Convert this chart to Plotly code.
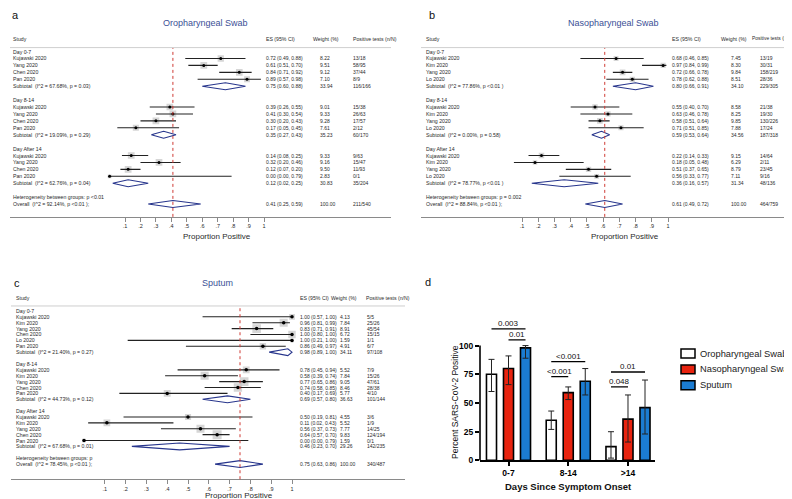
import math
import plotly.graph_objects as go

W, H = 792, 499
FONT = "Liberation Sans, Arial, sans-serif"
TXT = "#2a2a2a"
NAVY = "#27358c"
TITLE_C = "#3b4f96"
RED = "#cf3b35"


def px(x):
    return x / W


def py(y):
    return 1 - y / H


# ---------------- Panel a : Oropharyngeal Swab ----------------
a_labels = ["Day 0-7", "Kujawski 2020", "Yang 2020", "Chen 2020", "Pan 2020",
            "Subtotal  (I^2 = 67.68%, p = 0.03)", "",
            "Day 8-14", "Kujawski 2020", "Yang 2020", "Chen 2020", "Pan 2020",
            "Subtotal  (I^2 = 19.09%, p = 0.29)", "",
            "Day After 14", "Kujawski 2020", "Yang 2020", "Chen 2020", "Pan 2020",
            "Subtotal  (I^2 = 62.76%, p = 0.04)", "",
            "Heterogeneity between groups: p <0.01", "Overall  (I^2 = 92.14%, p <0.01 );"]
a_kind = ["h", "s", "s", "s", "s", "d", "", "h", "s", "s", "s", "s", "d", "",
          "h", "s", "s", "s", "s", "d", "", "t", "o"]
a_es = [None, 0.72, 0.61, 0.84, 0.89, 0.75, None, None, 0.39, 0.41, 0.30, 0.17, 0.35, None,
        None, 0.14, 0.32, 0.12, 0.00, 0.12, None, None, 0.41]
a_lo = [None, 0.49, 0.51, 0.71, 0.57, 0.60, None, None, 0.26, 0.30, 0.20, 0.05, 0.27, None,
        None, 0.08, 0.20, 0.07, 0.00, 0.02, None, None, 0.25]
a_hi = [None, 0.88, 0.70, 0.92, 0.98, 0.88, None, None, 0.55, 0.54, 0.43, 0.45, 0.43, None,
        None, 0.25, 0.46, 0.20, 0.79, 0.25, None, None, 0.59]
a_wt = [None, 8.22, 9.51, 9.12, 7.10, 33.94, None, None, 9.01, 9.33, 9.28, 7.61, 35.23, None,
        None, 9.33, 9.16, 9.50, 2.83, 30.83, None, None, 100.00]
a_np = [None, "13/18", "58/95", "37/44", "8/9", "116/166", None, None, "15/38", "26/63", "17/57",
        "2/12", "60/170", None, None, "9/63", "15/47", "11/93", "0/1", "35/204", None, None, "211/540"]

# ---------------- Panel b : Nasopharyngeal Swab ----------------
b_labels = ["Day 0-7", "Kujawski 2020", "Kim 2020", "Yang 2020", "Lo 2020",
            "Subtotal  (I^2 = 77.86%, p <0.01 )", "",
            "Day 8-14", "Kujawski 2020", "Kim 2020", "Yang 2020", "Lo 2020",
            "Subtotal  (I^2 = 0.00%, p = 0.58)", "",
            "Day After 14", "Kujawski 2020", "Kim 2020", "Yang 2020", "Lo 2020",
            "Subtotal  (I^2 = 78.77%, p <0.01 )", "",
            "Heterogeneity between groups: p = 0.002", "Overall  (I^2 = 88.84%, p <0.01 );"]
b_kind = a_kind
b_es = [None, 0.68, 0.97, 0.72, 0.78, 0.80, None, None, 0.55, 0.63, 0.58, 0.71, 0.59, None,
        None, 0.22, 0.18, 0.51, 0.56, 0.36, None, None, 0.61]
b_lo = [None, 0.46, 0.84, 0.66, 0.62, 0.66, None, None, 0.40, 0.46, 0.51, 0.51, 0.53, None,
        None, 0.14, 0.05, 0.37, 0.33, 0.16, None, None, 0.49]
b_hi = [None, 0.85, 0.99, 0.78, 0.88, 0.91, None, None, 0.70, 0.78, 0.64, 0.85, 0.64, None,
        None, 0.33, 0.48, 0.65, 0.77, 0.57, None, None, 0.72]
b_wt = [None, 7.45, 8.30, 9.84, 8.51, 34.10, None, None, 8.58, 8.25, 9.85, 7.88, 34.56, None,
        None, 9.15, 6.29, 8.79, 7.11, 31.34, None, None, 100.00]
b_np = [None, "13/19", "30/31", "158/219", "28/36", "229/305", None, None, "21/38", "19/30",
        "130/226", "17/24", "187/318", None, None, "14/64", "2/11", "23/45", "9/16", "48/136",
        None, None, "464/759"]

# ---------------- Panel c : Sputum ----------------
c_labels = ["Day 0-7", "Kujawski 2020", "Kim 2020", "Yang 2020", "Chen 2020", "Lo 2020", "Pan 2020",
            "Subtotal  (I^2 = 21.40%, p = 0.27)", "",
            "Day 8-14", "Kujawski 2020", "Kim 2020", "Yang 2020", "Chen 2020", "Pan 2020",
            "Subtotal  (I^2 = 44.73%, p = 0.12)", "",
            "Day After 14", "Kujawski 2020", "Kim 2020", "Yang 2020", "Chen 2020", "Pan 2020",
            "Subtotal  (I^2 = 67.68%, p = 0.01)", "",
            "Heterogeneity between groups: p", "Overall  (I^2 = 78.45%, p <0.01 );"]
c_kind = ["h", "s", "s", "s", "s", "s", "s", "d", "", "h", "s", "s", "s", "s", "s", "d", "",
          "h", "s", "s", "s", "s", "s", "d", "", "t", "o"]
c_es = [None, 1.00, 0.96, 0.83, 1.00, 1.00, 0.86, 0.98, None,
        None, 0.78, 0.58, 0.77, 0.74, 0.40, 0.69, None,
        None, 0.50, 0.11, 0.56, 0.64, 0.00, 0.46, None, None, 0.75]
c_lo = [None, 0.57, 0.81, 0.71, 0.80, 0.21, 0.49, 0.89, None,
        None, 0.45, 0.39, 0.65, 0.58, 0.17, 0.57, None,
        None, 0.19, 0.02, 0.37, 0.57, 0.00, 0.23, None, None, 0.63]
c_hi = [None, 1.00, 0.99, 0.91, 1.00, 1.00, 0.97, 1.00, None,
        None, 0.94, 0.74, 0.86, 0.85, 0.69, 0.80, None,
        None, 0.81, 0.43, 0.73, 0.70, 0.79, 0.70, None, None, 0.86]
c_wt = [None, 4.13, 7.84, 8.91, 6.72, 1.59, 4.91, 34.11, None,
        None, 5.52, 7.84, 9.05, 8.46, 5.77, 36.63, None,
        None, 4.55, 5.52, 7.77, 9.83, 1.59, 29.26, None, None, 100.00]
c_np = [None, "5/5", "25/26", "45/54", "15/15", "1/1", "6/7", "97/108", None,
        None, "7/9", "15/26", "47/61", "28/38", "4/10", "101/144", None,
        None, "3/6", "1/9", "14/25", "124/194", "0/1", "142/235", None, None, "340/487"]

tick_vals = [0.1, 0.2, 0.3, 0.4, 0.5, 0.6, 0.7, 0.8, 0.9, 1.0]
tick_text = [".1", ".2", ".3", ".4", ".5", ".6", ".7", ".8", ".9", "1"]

# ---------------- Panel d : bar chart ----------------
d_groups = ["0-7", "8-14", ">14"]
d_series = ["Oropharyngeal Swab", "Nasopharyngeal Swab", "Sputum"]
d_colors = ["#ffffff", "#e8230f", "#1b7cd2"]
d_vals = [[75, 35, 12], [80, 59, 36], [98, 69, 46]]
d_lo = [[60, 27, 2], [66, 53, 16], [89, 57, 23]]
d_hi = [[88, 43, 25], [91, 64, 57], [100, 80, 70]]
d_sig_text = ["0.003", "0.01", "<0.001", "<0.001", "0.01", "0.048"]
d_sig_group = [0, 0, 1, 1, 2, 2]
d_sig_from = [0, 1, 0, 0, 0, 0]
d_sig_to = [2, 2, 2, 1, 2, 1]
d_sig_y = [114.5, 105.0, 86.0, 73.0, 77.0, 64.0]
d_yticks = [0, 25, 50, 75, 100]

fig = go.Figure()
annotations = []
shapes = []
layout_axes = {}


def ann(x, y, text, size=5.2, xanchor="left", yanchor="middle", color=TXT, xref="paper",
        yref="paper", **kw):
    annotations.append(dict(x=x, y=y, xref=xref, yref=yref, text=text, showarrow=False,
                            xanchor=xanchor, yanchor=yanchor, borderpad=0, borderwidth=0,
                            font=dict(family=FONT, size=size, color=color), **kw))


def add_forest(n, labels, kind, es, lo, hi, wt, npos, g):
    xa = "x" if n == 1 else f"x{n}"
    ya = "y" if n == 1 else f"y{n}"
    xk = "xaxis" if n == 1 else f"xaxis{n}"
    yk = "yaxis" if n == 1 else f"yaxis{n}"
    layout_axes[xk] = dict(
        domain=[px(g["l"]), px(g["r"])],
        range=[(g["l"] - g["x0"]) / g["ppu"], (g["r"] - g["x0"]) / g["ppu"]],
        anchor=ya, showline=True, linecolor="#8a8a8a", linewidth=1,
        ticks="outside", ticklen=4, tickcolor="#8a8a8a", tickwidth=1,
        tickvals=tick_vals, ticktext=tick_text,
        tickfont=dict(family=FONT, size=5.5, color=TXT),
        showgrid=False, zeroline=False)
    layout_axes[yk] = dict(
        domain=[py(g["ybot"]), py(g["ytop"])],
        range=[(g["ybot"] - g["row0"]) / g["rowh"], (g["ytop"] - g["row0"]) / g["rowh"]],
        anchor=xa, visible=False, showgrid=False, zeroline=False)

    # squares (weights)
    sx, sy, ss = [], [], []
    for r, k in enumerate(kind):
        if k == "s":
            sx.append(es[r]); sy.append(r); ss.append(g["sq"] * math.sqrt(wt[r]))
    fig.add_trace(go.Scatter(x=sx, y=sy, xaxis=xa, yaxis=ya, mode="markers",
                             marker=dict(symbol="square", size=ss, color="#c4c4c4",
                                         line=dict(width=0)),
                             hoverinfo="skip", showlegend=False))
    # CI lines + point estimate
    ex = [es[r] for r, k in enumerate(kind) if k == "s"]
    ey = [r for r, k in enumerate(kind) if k == "s"]
    ep = [hi[r] - es[r] for r, k in enumerate(kind) if k == "s"]
    em = [es[r] - lo[r] for r, k in enumerate(kind) if k == "s"]
    fig.add_trace(go.Scatter(x=ex, y=ey, xaxis=xa, yaxis=ya, mode="markers",
                             marker=dict(symbol="circle", size=g["dot"], color="#000"),
                             error_x=dict(type="data", symmetric=False, array=ep, arrayminus=em,
                                          width=0, color="#222", thickness=1.1),
                             hoverinfo="skip", showlegend=False))
    # diamonds
    dx, dy = [], []
    for r, k in enumerate(kind):
        if k in ("d", "o"):
            h = g["dh"]
            dx += [lo[r], es[r], hi[r], es[r], lo[r], None]
            dy += [r, r - h, r, r + h, r, None]
    fig.add_trace(go.Scatter(x=dx, y=dy, xaxis=xa, yaxis=ya, mode="lines",
                             line=dict(color=NAVY, width=1.1), hoverinfo="skip",
                             showlegend=False))
    # overall reference line
    ov = es[kind.index("o")]
    shapes.append(dict(type="line", xref=xa, yref=f"{ya} domain", x0=ov, x1=ov, y0=0, y1=1,
                       line=dict(color=RED, width=1, dash="dot")))
    # header line
    shapes.append(dict(type="line", xref="paper", yref="paper", x0=px(g["l"]), x1=px(g["r"]),
                       y0=py(g["ytop"]), y1=py(g["ytop"]), line=dict(color="#cfcfcf", width=1)))
    # headers
    hy = py(g["hdr"])
    ann(px(g["lab"]), hy, "Study")
    ann(px(g["es"]), hy, "ES (95% CI)")
    ann(px(g["wth"]), hy, "Weight (%)")
    ann(px(g["nph"]), hy, "Positive tests (n/N)", size=g.get("nph_size", 5.2))
    # rows
    for r, lab in enumerate(labels):
        if lab:
            ann(px(g["lab"]), r, lab, yref=ya)
        if es[r] is not None:
            ann(px(g["es"]), r, f"{es[r]:.2f} ({lo[r]:.2f}, {hi[r]:.2f})", size=5, yref=ya)
            ann(px(g["wt"]), r, f"{wt[r]:.2f}", size=5, yref=ya)
            ann(px(g["np"]), r, npos[r], size=5, yref=ya)
    # titles
    ann(px(g["title_x"]), py(g["title_y"]), g["title"], size=9, xanchor="center", color=TITLE_C)
    ann(px(g["xl_x"]), py(g["xl_y"]), "Proportion Positive", size=8, xanchor="center", color=TXT)
    ann(px(g["let_x"]), py(g["let_y"]), g["letter"], size=11, color="#111")


ga = dict(x0=101.6, ppu=154.4, l=2, r=383, row0=44, rowh=7, ytop=40, ybot=211,
          lab=5, es=258, wt=311.5, wth=305, np=345, nph=345, hdr=31, sq=2.2, dh=0.5, dot=3,
          title="Oropharyngeal Swab", title_x=197, title_y=15, xl_x=209, xl_y=231,
          letter="a", let_x=4, let_y=7)
gb = dict(x0=497.8, ppu=162.2, l=413, r=792, row0=44, rowh=7, ytop=40, ybot=211,
          lab=418, es=664, wt=722.5, wth=713, np=752, nph=744, nph_size=4.9, hdr=31, sq=1.8,
          dh=0.5, dot=3,
          title="Nasopharyngeal Swab", title_x=605, title_y=15, xl_x=617, xl_y=231,
          letter="b", let_x=421, let_y=7)
gc = dict(x0=76, ppu=208, l=3, r=397, row0=306, rowh=5.95, ytop=301, ybot=476,
          lab=8, es=292, wt=331.5, wth=323, np=359, nph=358, hdr=293, sq=2.87, dh=0.58, dot=3.5,
          title="Sputum", title_x=209, title_y=278, xl_x=231, xl_y=492,
          letter="c", let_x=6, let_y=278)

add_forest(1, a_labels, a_kind, a_es, a_lo, a_hi, a_wt, a_np, ga)
add_forest(2, b_labels, b_kind, b_es, b_lo, b_hi, b_wt, b_np, gb)
add_forest(3, c_labels, c_kind, c_es, c_lo, c_hi, c_wt, c_np, gc)

# ---------------- Panel d ----------------
BARGAP = 0.146
slot = (1 - BARGAP) / 3
for i, name in enumerate(d_series):
    fig.add_trace(go.Bar(
        x=list(range(len(d_groups))), y=d_vals[i], name=name, xaxis="x4", yaxis="y4",
        marker=dict(color=d_colors[i], line=dict(color="#000", width=1.6)),
        error_y=dict(type="data", symmetric=False,
                     array=[h - v for h, v in zip(d_hi[i], d_vals[i])],
                     arrayminus=[v - l for v, l in zip(d_vals[i], d_lo[i])],
                     color="#222", thickness=1, width=3),
        showlegend=False, hoverinfo="skip"))

for t, gi, f, to, yv in zip(d_sig_text, d_sig_group, d_sig_from, d_sig_to, d_sig_y):
    x0 = gi + (f - 1) * slot
    x1 = gi + (to - 1) * slot
    fig.add_trace(go.Scatter(x=[x0, x1], y=[yv, yv], xaxis="x4", yaxis="y4", mode="lines",
                             line=dict(color="#000", width=1.3), hoverinfo="skip",
                             showlegend=False))
    ann((x0 + x1) / 2, yv, t, size=8, xanchor="center", yanchor="bottom", color="#111",
        xref="x4", yref="y4", yshift=1)

d_left, d_right, d_top, d_base = 472, 647, 300, 457
d_ppu_y = 1.16
layout_axes["xaxis4"] = dict(
    domain=[px(d_left), px(d_right)], range=[-0.477, 2.452], anchor="y4",
    tickvals=list(range(len(d_groups))), ticktext=d_groups,
    tickfont=dict(family=FONT, size=8.5, color="#000", weight="bold"),
    showline=True, linecolor="#000", linewidth=1.6, ticks="outside", ticklen=4,
    tickwidth=1.6, tickcolor="#000", showgrid=False, zeroline=False)
layout_axes["yaxis4"] = dict(
    domain=[py(d_base), py(d_top)], range=[0, (d_base - d_top) / d_ppu_y], anchor="x4",
    tickvals=d_yticks, ticks="outside", ticklen=4, tickwidth=1.6, tickcolor="#000",
    tickfont=dict(family=FONT, size=8.5, color="#000", weight="bold"),
    showline=False, showgrid=False, zeroline=False)
shapes.append(dict(type="line", xref="x4 domain", yref="y4", x0=0, x1=0, y0=0,
                   y1=max(d_yticks), line=dict(color="#000", width=1.6)))
ann(px(447), py(398), "Percent SARS-CoV-2 Positive", size=8.5, xanchor="center",
    color="#111", textangle=-90)
ann(px(560), py(483), "<b>Days Since Symptom Onset</b>", size=9.5, xanchor="center",
    color="#111")
ann(px(417), py(277), "d", size=11, color="#111")

# manual legend
leg_y = [349, 365, 381]
for name, col, yy in zip(d_series, d_colors, leg_y):
    shapes.append(dict(type="rect", xref="paper", yref="paper", x0=px(673), x1=px(687),
                       y0=py(yy + 4.5), y1=py(yy - 4.5), fillcolor=col,
                       line=dict(color="#000", width=1.5)))
    ann(px(692), py(yy), name, size=9.3, color="#222")

fig.update_layout(width=W, height=H, margin=dict(l=0, r=0, t=0, b=0),
                  paper_bgcolor="white", plot_bgcolor="rgba(0,0,0,0)",
                  barmode="group", bargap=BARGAP, bargroupgap=0.41,
                  annotations=annotations, shapes=shapes, showlegend=False,
                  font=dict(family=FONT), **layout_axes)
fig.write_html("out.html")
